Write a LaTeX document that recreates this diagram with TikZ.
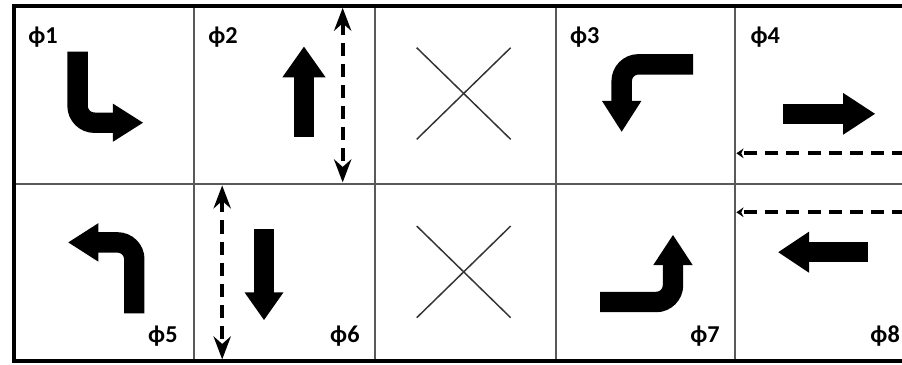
\documentclass[tikz,border=0pt]{standalone}
\usepackage{fontspec}
\setmainfont{Carlito}
\usetikzlibrary{arrows.meta}

\tikzset{
  gridline/.style={draw=black!65, line width=0.95pt},
  frame/.style={draw=black, line width=1.5pt},
  shaft/.style={line width=0.34cm, line cap=butt, rounded corners=0.28cm},
  crossline/.style={draw=black!80, line width=0.7pt},
  flowdash/.style={line width=1.75pt, dash pattern=on 6.2pt off 3.8pt,
    arrows={-Stealth[length=3.4pt, width=4.6pt]}},
  phase/.style={inner sep=0pt, font=\fontsize{11.5}{13}\selectfont\bfseries}
}

\begin{document}
\begin{tikzpicture}
    \useasboundingbox (-0.233,0.1) rectangle (14.8,-5.967);

    % 表格的网格线
    \foreach \x in {3,6.02,9.03,12.02}
        \draw[gridline] (\x,0) -- (\x,-5.917);
    \draw[gridline] (0,-2.967) -- (15,-2.967);
    \draw[frame] (0,0) rectangle (15,-5.917);

    % 相位标签
    \node[phase, anchor=base west] (p1) at (0.233,-0.617) {ϕ1};
    \node[phase, anchor=base west] (p2) at (3.233,-0.617) {ϕ2};
    \node[phase, anchor=base west] (p3) at (9.26,-0.617) {ϕ3};
    \node[phase, anchor=base west] (p4) at (12.27,-0.617) {ϕ4};
    \node[phase, anchor=base east] (p5) at (2.733,-5.6) {ϕ5};
    \node[phase, anchor=base east] (p6) at (5.767,-5.6) {ϕ6};
    \node[phase, anchor=base east] (p7) at (11.767,-5.6) {ϕ7};
    \node[phase, anchor=base east] (p8) at (14.77,-5.6) {ϕ8};

    % ϕ1：直行后右转
    \draw[shaft] (1.06,-0.76) -- (1.06,-1.945) -- (1.67,-1.945);
    \fill (1.65,-1.628) -- (2.15,-1.945) -- (1.65,-2.262) -- cycle;

    % ϕ2：直行向上
    \draw[shaft] (4.833,-2.178) -- (4.833,-1.17);
    \fill (4.473,-1.188) -- (4.833,-0.678) -- (5.193,-1.188) -- cycle;

    % ϕ3：左转向下
    \draw[shaft] (11.32,-0.972) -- (10.128,-0.972) -- (10.128,-1.6);
    \fill (9.80,-1.583) -- (10.128,-2.095) -- (10.456,-1.583) -- cycle;

    % ϕ4：直行向右
    \draw[shaft] (12.82,-1.797) -- (13.84,-1.797);
    \fill (13.82,-1.45) -- (14.35,-1.797) -- (13.82,-2.144) -- cycle;

    % ϕ5：向上后左转
    \draw[shaft] (2.005,-5.122) -- (2.005,-3.94) -- (1.39,-3.94);
    \fill (1.405,-3.62) -- (0.905,-3.94) -- (1.405,-4.26) -- cycle;

    % ϕ6：直行向下
    \draw[shaft] (4.167,-3.722) -- (4.167,-4.79);
    \fill (3.842,-4.772) -- (4.167,-5.233) -- (4.492,-4.772) -- cycle;

    % ϕ7：向右后左转向上
    \draw[shaft] (9.767,-4.933) -- (10.983,-4.933) -- (10.983,-4.30);
    \fill (10.655,-4.317) -- (10.983,-3.817) -- (11.311,-4.317) -- cycle;

    % ϕ8：直行向左
    \draw[shaft] (14.233,-4.103) -- (13.23,-4.103);
    \fill (13.25,-3.761) -- (12.738,-4.103) -- (13.25,-4.445) -- cycle;

    % 中间两格的叉
    \foreach \ya/\yb in {-0.695/-2.222, -3.667/-5.195} {
        \draw[crossline] (6.712,\ya) -- (8.278,\yb);
        \draw[crossline] (6.712,\yb) -- (8.278,\ya);
    }

    % 行人（虚线双向箭头）
    \coordinate (w2a) at (5.478,-0.03);
    \coordinate (w2b) at (5.478,-2.94);
    \coordinate (w6a) at (3.47,-2.99);
    \coordinate (w6b) at (3.47,-5.89);
    \coordinate (w4a) at (15.2,-2.455);
    \coordinate (w4b) at (12.04,-2.455);
    \coordinate (w8a) at (15.2,-3.438);
    \coordinate (w8b) at (12.04,-3.438);
    \draw[flowdash, Stealth-Stealth] (w2a) -- (w2b);
    \draw[flowdash, Stealth-Stealth] (w6a) -- (w6b);
    \draw[flowdash] (w4a) -- (w4b);
    \draw[flowdash] (w8a) -- (w8b);
\end{tikzpicture}
\end{document}
